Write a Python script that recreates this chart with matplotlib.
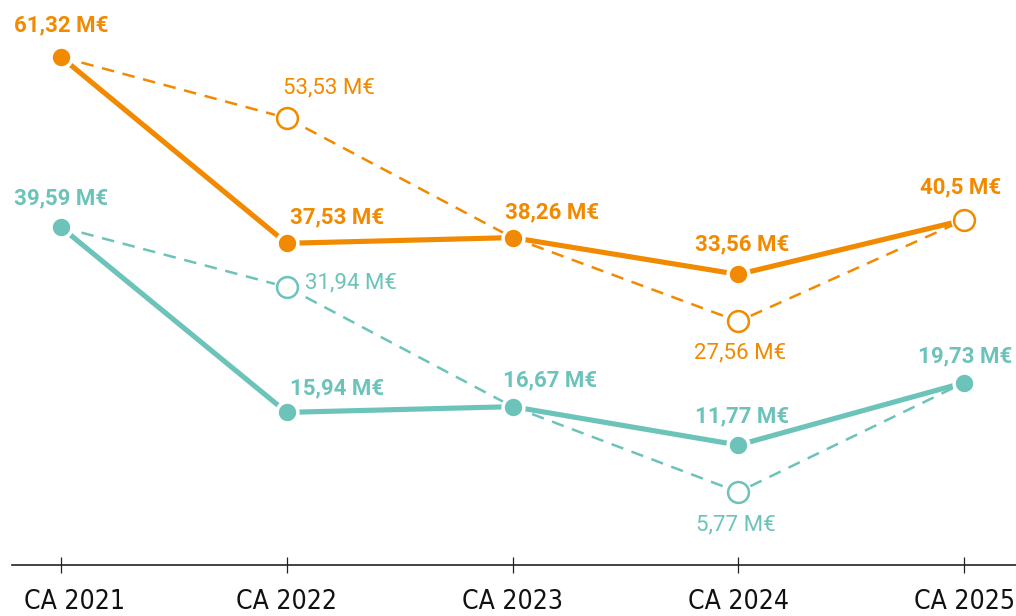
import matplotlib
matplotlib.use("Agg")
import matplotlib.pyplot as plt
import matplotlib.transforms as mtransforms

# -------------------------
# Data
# -------------------------
years = ["CA 2021", "CA 2022", "CA 2023", "CA 2024", "CA 2025"]
orange_solid = [61.32, 37.53, 38.26, 33.56, 40.5]
orange_dash = [61.32, 53.53, 38.26, 27.56, 40.5]
teal_solid = [39.59, 15.94, 16.67, 11.77, 19.73]
teal_dash = [39.59, 31.94, 16.67, 5.77, 19.73]

ORANGE = "#F18A00"
TEAL = "#6CC3B9"
LABEL_FONT = ["Roboto", "DejaVu Sans"]


def fmt(v: float) -> str:
    s = f"{v:.2f}".rstrip("0").rstrip(".") if v == round(v, 1) else f"{v:.2f}"
    return s.replace(".", ",") + " M€"


fig = plt.figure(figsize=(10.16, 6.16), dpi=100)
ax = fig.add_axes([0, 51 / 616, 1, 565 / 616])
x = list(range(len(years)))

# dashed lines (hollow markers at 2022 / 2024)
for vals, col in [(orange_dash, ORANGE), (teal_dash, TEAL)]:
    ax.plot(x, vals, color=col, lw=1.8, ls=(0, (5, 3.5)), zorder=2)
    ax.plot([x[1], x[3]], [vals[1], vals[3]], ls="none", marker="o", ms=15,
            mfc="white", mec="white", mew=4, zorder=3)
    ax.plot([x[1], x[3]], [vals[1], vals[3]], ls="none", marker="o", ms=15,
            mfc="white", mec=col, mew=1.8, zorder=4)

# solid lines
for vals, col in [(orange_solid, ORANGE), (teal_solid, TEAL)]:
    ax.plot(x, vals, color=col, lw=3.7, solid_capstyle="butt", zorder=5)
    ax.plot(x, vals, ls="none", marker="o", ms=15, mfc=col, mec="white",
            mew=2.5, zorder=6)

# 2025 orange point is hollow
ax.plot([x[4]], [orange_solid[4]], ls="none", marker="o", ms=15,
        mfc="white", mec="white", mew=4, zorder=7)
ax.plot([x[4]], [orange_solid[4]], ls="none", marker="o", ms=15,
        mfc="white", mec=ORANGE, mew=1.8, zorder=8)

# -------------------------
# Labels (offsets in pixels)
# -------------------------
labels = [
    # (x, value, colour, bold, dx, dy, ha)
    (0, orange_solid[0], ORANGE, True, 0, 32, "center"),
    (1, orange_dash[1], ORANGE, False, 42, 30, "center"),
    (1, orange_solid[1], ORANGE, True, 50, 26, "center"),
    (2, orange_solid[2], ORANGE, True, 40, 25, "center"),
    (3, orange_solid[3], ORANGE, True, 4, 30, "center"),
    (3, orange_dash[3], ORANGE, False, 2, -32, "center"),
    (4, orange_solid[4], ORANGE, True, -4, 33, "center"),
    (0, teal_solid[0], TEAL, True, 0, 29, "center"),
    (1, teal_dash[1], TEAL, False, 18, 4, "left"),
    (1, teal_solid[1], TEAL, True, 50, 24, "center"),
    (2, teal_solid[2], TEAL, True, 38, 26, "center"),
    (3, teal_solid[3], TEAL, True, 4, 29, "center"),
    (3, teal_dash[3], TEAL, False, -2, -33, "center"),
    (4, teal_solid[4], TEAL, True, 1, 26, "center"),
]
for xi, v, col, bold, dx, dy, ha in labels:
    ax.annotate(fmt(v), (xi, v), xytext=(dx, dy), textcoords="offset pixels",
                ha=ha, va="center", color=col, fontsize=16,
                fontweight="bold" if bold else "normal", family=LABEL_FONT,
                zorder=10)

# -------------------------
# Axes styling
# -------------------------
ax.set_xlim(-0.270, 4.230)
ax.set_ylim(-3.55, 68.60)
for side in ["top", "right", "left"]:
    ax.spines[side].set_visible(False)
ax.spines["bottom"].set_bounds(-0.217, 4.23)
ax.spines["bottom"].set_color("#222222")
ax.spines["bottom"].set_linewidth(1.2)
ax.set_yticks([])
ax.set_xticks(x)
ax.set_xticklabels(years, family="DejaVu Sans", fontstretch="condensed",
                   fontsize=19, color="#111111")
ax.tick_params(axis="x", direction="inout", length=12, width=0.9,
               color="#222222", pad=11)
# first label sits a little to the right of its tick
first = ax.get_xticklabels()[0]
first.set_transform(first.get_transform() +
                    mtransforms.ScaledTranslation(14 / 100, 0, fig.dpi_scale_trans))
ax.patch.set_alpha(0)

fig.savefig("out.png", dpi=100)
